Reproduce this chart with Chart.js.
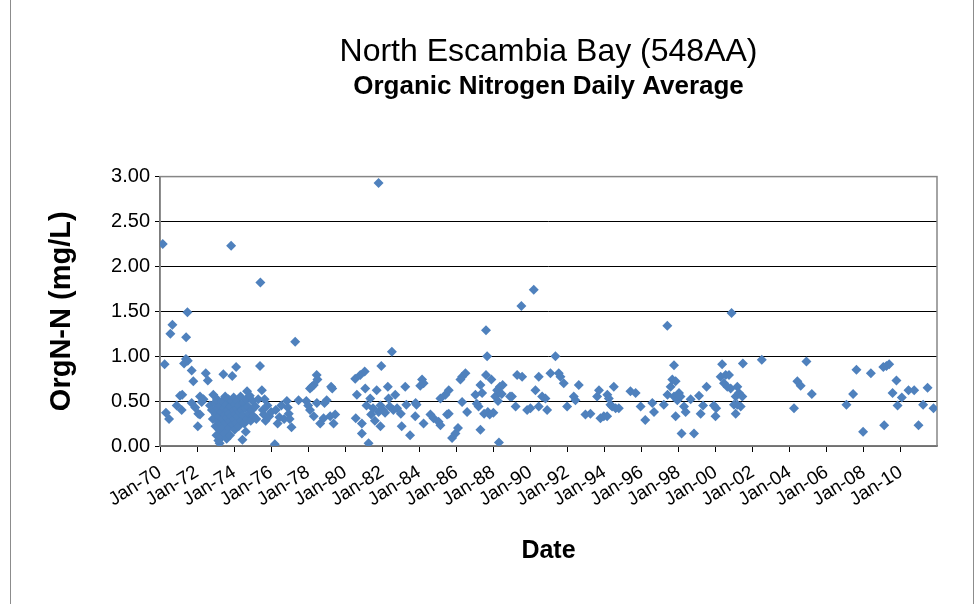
<!DOCTYPE html>
<html>
<head>
<meta charset="utf-8">
<title>North Escambia Bay (548AA)</title>
<script src="https://cdn.jsdelivr.net/npm/chart.js@4.4.1/dist/chart.umd.min.js"></script>
<style>
  html, body { margin: 0; padding: 0; background: #fff; overflow: hidden; }
  #wrap { position: relative; width: 980px; height: 604px; }
  #frame { position: absolute; left: 10px; top: -2px; width: 962px; height: 610px; border: 1px solid #8c8c8c; pointer-events: none; }
</style>
</head>
<body>
<div id="wrap">
  <canvas id="chart" width="980" height="604"></canvas>
  <div id="frame"></div>
</div>
<script>
// sample dates as decimal years, and OrgN-N daily average (mg/L)
const sampleYears = [
  1970.15, 1970.25, 1970.32, 1970.49, 1970.56, 1970.67, 1970.90, 1971.08, 1971.17, 1971.20,
  1971.30, 1971.40, 1971.41, 1971.48, 1971.50, 1971.71, 1971.71, 1971.80, 1971.90, 1972.04,
  1972.07, 1972.16, 1972.16, 1972.25, 1972.35, 1972.47, 1972.58, 1972.70, 1972.80, 1972.88,
  1972.85, 1972.95, 1973.00, 1973.02, 1973.05, 1973.08, 1973.10, 1973.12, 1973.15, 1973.18,
  1973.20, 1973.22, 1973.25, 1973.28, 1973.30, 1973.32, 1973.35, 1973.38, 1973.40, 1973.42,
  1973.45, 1973.48, 1973.50, 1973.52, 1973.55, 1973.58, 1973.60, 1973.62, 1973.65, 1973.68,
  1973.70, 1973.72, 1973.75, 1973.78, 1973.80, 1973.84, 1973.85, 1973.88, 1973.90, 1973.92,
  1973.95, 1973.98, 1974.00, 1974.03, 1974.05, 1974.08, 1974.11, 1974.12, 1974.15, 1974.18,
  1974.20, 1974.25, 1974.28, 1974.30, 1974.35, 1974.38, 1974.42, 1974.45, 1974.48, 1974.52,
  1974.55, 1974.60, 1974.63, 1974.66, 1974.70, 1974.70, 1974.75, 1974.80, 1974.85, 1974.90,
  1974.95, 1975.00, 1975.05, 1975.15, 1975.20, 1975.30, 1975.40, 1975.42, 1975.50, 1975.55,
  1975.60, 1975.65, 1975.70, 1975.80, 1975.90, 1976.00, 1976.20, 1976.25, 1976.35, 1976.45,
  1976.55, 1976.70, 1976.85, 1976.90, 1976.95, 1977.00, 1977.10, 1977.30, 1977.48, 1977.90,
  1978.00, 1978.10, 1978.10, 1978.20, 1978.30, 1978.30, 1978.46, 1978.47, 1978.50, 1978.65,
  1978.83, 1978.88, 1979.00, 1979.19, 1979.24, 1979.30, 1979.37, 1979.46, 1980.54, 1980.57,
  1980.63, 1980.81, 1980.90, 1980.90, 1981.05, 1981.08, 1981.15, 1981.26, 1981.35, 1981.40,
  1981.50, 1981.60, 1981.70, 1981.80, 1981.80, 1981.90, 1981.90, 1981.95, 1982.05, 1982.15,
  1982.30, 1982.34, 1982.40, 1982.52, 1982.60, 1982.70, 1982.80, 1983.00, 1983.05, 1983.24,
  1983.30, 1983.50, 1983.78, 1983.80, 1983.85, 1984.05, 1984.15, 1984.23, 1984.23, 1984.60,
  1984.77, 1985.04, 1985.14, 1985.14, 1985.41, 1985.50, 1985.59, 1985.59, 1985.77, 1985.95,
  1986.09, 1986.22, 1986.31, 1986.31, 1986.49, 1986.58, 1987.03, 1987.10, 1987.20, 1987.30,
  1987.30, 1987.39, 1987.50, 1987.60, 1987.60, 1987.66, 1987.70, 1987.80, 1987.89, 1988.00,
  1988.10, 1988.20, 1988.25, 1988.30, 1988.35, 1988.45, 1988.50, 1988.90, 1989.00, 1989.20,
  1989.28, 1989.51, 1989.55, 1989.82, 1990.00, 1990.18, 1990.27, 1990.45, 1990.45, 1990.63,
  1990.81, 1990.90, 1991.08, 1991.35, 1991.53, 1991.62, 1991.80, 1991.98, 1992.34, 1992.43,
  1992.61, 1992.97, 1993.24, 1993.60, 1993.70, 1993.78, 1993.96, 1994.14, 1994.15, 1994.23,
  1994.32, 1994.41, 1994.50, 1994.60, 1994.77, 1995.40, 1995.68, 1995.95, 1996.20, 1996.58,
  1996.67, 1997.20, 1997.39, 1997.40, 1997.57, 1997.66, 1997.75, 1997.75, 1997.84, 1997.84,
  1997.93, 1998.02, 1998.10, 1998.16, 1998.29, 1998.38, 1998.65, 1998.83, 1999.10, 1999.19,
  1999.32, 1999.51, 1999.90, 1999.99, 2000.03, 2000.27, 2000.35, 2000.45, 2000.54, 2000.63,
  2000.72, 2000.81, 2000.86, 2000.99, 2001.08, 2001.08, 2001.17, 2001.17, 2001.26, 2001.35,
  2001.44, 2001.47, 2002.49, 2004.23, 2004.41, 2004.59, 2004.90, 2005.19, 2007.06, 2007.42,
  2007.60, 2007.96, 2008.38, 2009.05, 2009.10, 2009.22, 2009.37, 2009.55, 2009.76, 2009.82,
  2010.05, 2010.41, 2010.72, 2010.95, 2011.20, 2011.44, 2011.76
];
const orgN = [
  2.25, 0.91, 0.37, 0.30, 1.25, 1.35, 0.45, 0.56, 0.40, 0.57,
  0.92, 0.97, 1.21, 1.49, 0.95, 0.84, 0.48, 0.72, 0.43, 0.22,
  0.36, 0.55, 0.35, 0.49, 0.52, 0.81, 0.73, 0.45, 0.40, 0.57,
  0.30, 0.48, 0.22, 0.35, 0.12, 0.52, 0.28, 0.42, 0.06, 0.33,
  0.18, 0.03, 0.45, 0.25, 0.38, 0.10, 0.50, 0.30, 0.20, 0.80,
  0.42, 0.14, 0.35, 0.55, 0.26, 0.46, 0.08, 0.32, 0.40, 0.20,
  0.52, 0.36, 0.28, 0.12, 0.44, 2.23, 0.33, 0.50, 0.78, 0.24,
  0.40, 0.54, 0.30, 0.18, 0.46, 0.36, 0.88, 0.26, 0.42, 0.50,
  0.33, 0.22, 0.45, 0.38, 0.55, 0.28, 0.40, 0.07, 0.34, 0.48,
  0.25, 0.42, 0.16, 0.52, 0.30, 0.61, 0.44, 0.36, 0.56, 0.28,
  0.40, 0.50, 0.33, 0.44, 0.30, 0.52, 0.89, 1.82, 0.62, 0.40,
  0.35, 0.52, 0.28, 0.45, 0.33, 0.38, 0.02, 0.40, 0.25, 0.32,
  0.45, 0.30, 0.50, 0.43, 0.36, 0.30, 0.21, 1.16, 0.51, 0.50,
  0.45, 0.64, 0.40, 0.66, 0.68, 0.33, 0.79, 0.48, 0.74, 0.25,
  0.31, 0.48, 0.51, 0.33, 0.66, 0.64, 0.25, 0.35, 0.75, 0.31,
  0.57, 0.79, 0.25, 0.14, 0.83, 0.64, 0.45, 0.03, 0.53, 0.35,
  0.42, 0.28, 0.62, 2.93, 0.38, 0.45, 0.22, 0.89, 0.40, 0.37,
  0.66, 0.53, 0.44, 1.05, 0.40, 0.57, 0.42, 0.36, 0.22, 0.66,
  0.46, 0.12, 0.33, 0.48, 0.46, 0.67, 0.74, 0.70, 0.25, 0.35,
  0.31, 0.27, 0.23, 0.53, 0.57, 0.35, 0.62, 0.36, 0.09, 0.14,
  0.20, 0.74, 0.77, 0.49, 0.81, 0.38, 0.57, 0.47, 0.44, 0.68,
  0.18, 0.59, 0.36, 1.29, 0.79, 1.00, 0.38, 0.35, 0.74, 0.37,
  0.55, 0.62, 0.50, 0.04, 0.66, 0.58, 0.68, 0.55, 0.55, 0.44,
  0.79, 1.56, 0.77, 0.40, 0.42, 1.74, 0.62, 0.77, 0.44, 0.55,
  0.53, 0.40, 0.81, 1.00, 0.81, 0.77, 0.70, 0.44, 0.55, 0.51,
  0.68, 0.35, 0.36, 0.55, 0.62, 0.31, 0.33, 0.33, 0.57, 0.53,
  0.46, 0.44, 0.66, 0.42, 0.42, 0.61, 0.59, 0.44, 0.29, 0.48,
  0.38, 0.46, 1.34, 0.57, 0.66, 0.74, 0.90, 0.55, 0.72, 0.33,
  0.51, 0.59, 0.55, 0.14, 0.44, 0.38, 0.52, 0.14, 0.56, 0.36,
  0.45, 0.66, 0.45, 0.33, 0.42, 0.77, 0.91, 0.70, 0.79, 0.66,
  0.79, 0.64, 1.48, 0.46, 0.55, 0.36, 0.66, 0.46, 0.59, 0.44,
  0.55, 0.92, 0.96, 0.42, 0.72, 0.67, 0.94, 0.58, 0.46, 0.58,
  0.85, 0.16, 0.81, 0.88, 0.23, 0.89, 0.91, 0.59, 0.73, 0.45,
  0.54, 0.62, 0.62, 0.23, 0.46, 0.65, 0.42
];
const xTickYears = [1970, 1972, 1974, 1976, 1978, 1980, 1982, 1984, 1986, 1988,
  1990, 1992, 1994, 1996, 1998, 2000, 2002, 2004, 2006, 2008, 2010];
const yTicks = [0, 0.5, 1, 1.5, 2, 2.5, 3];

Chart.defaults.font.family = "'Liberation Sans', Arial, sans-serif";
Chart.defaults.color = '#000';

// grey frame round the plot area, like the Excel original
const plotFrame = {
  id: 'plotFrame',
  beforeDatasetsDraw(chart) {
    const a = chart.chartArea;
    const ctx = chart.ctx;
    ctx.save();
    ctx.strokeStyle = '#868686';
    ctx.lineWidth = 1.5;
    ctx.strokeRect(a.left, a.top, a.right - a.left, a.bottom - a.top);
    ctx.restore();
  }
};

new Chart(document.getElementById('chart'), {
  type: 'scatter',
  data: {
    datasets: [{
      label: 'OrgN-N',
      data: sampleYears.map((yr, i) => ({ x: yr, y: orgN[i] })),
      pointStyle: 'rectRot',
      pointRadius: 5,
      pointBorderWidth: 0,
      backgroundColor: '#4F81BD',
      borderColor: '#4F81BD'
    }]
  },
  options: {
    responsive: false,
    animation: false,
    layout: { padding: { left: 0, right: 43, top: 0, bottom: 0 } },
    plugins: {
      legend: { display: false },
      tooltip: { enabled: false },
      title: {
        display: true,
        fullSize: false,
        text: 'North Escambia Bay (548AA)',
        font: { size: 32, weight: 'normal' },
        padding: { top: 33, bottom: 0 }
      },
      subtitle: {
        display: true,
        fullSize: false,
        text: 'Organic Nitrogen Daily Average',
        color: '#000',
        font: { size: 26, weight: 'bold' },
        padding: { top: 0, bottom: 74 }
      }
    },
    scales: {
      x: {
        type: 'linear',
        min: 1970,
        max: 2011.95,
        afterBuildTicks: s => { s.ticks = xTickYears.map(v => ({ value: v })); },
        afterFit: s => { s.height = 158; },
        ticks: {
          autoSkip: false,
          minRotation: 32,
          maxRotation: 32,
          padding: 9,
          font: { size: 19 },
          callback: v => 'Jan-' + String(v % 100).padStart(2, '0')
        },
        grid: { drawOnChartArea: false, drawTicks: true, tickLength: 6, color: '#000' },
        border: { color: '#5a5a5a', width: 1.5 },
        title: {
          display: true,
          text: 'Date',
          font: { size: 25, weight: 'bold' },
          padding: { top: 0, bottom: 38 }
        }
      },
      y: {
        min: 0,
        max: 3,
        afterBuildTicks: s => { s.ticks = yTicks.map(v => ({ value: v })); },
        afterFit: s => { s.width = 160; },
        ticks: {
          padding: 5,
          font: { size: 20 },
          callback: v => v.toFixed(2)
        },
        grid: { color: '#000', lineWidth: 1, tickLength: 5 },
        border: { color: '#5a5a5a', width: 1.5 },
        title: {
          display: true,
          text: 'OrgN-N (mg/L)',
          font: { size: 29, weight: 'bold' },
          padding: { top: 45, bottom: 0 }
        }
      }
    }
  },
  plugins: [plotFrame]
});
</script>
</body>
</html>
